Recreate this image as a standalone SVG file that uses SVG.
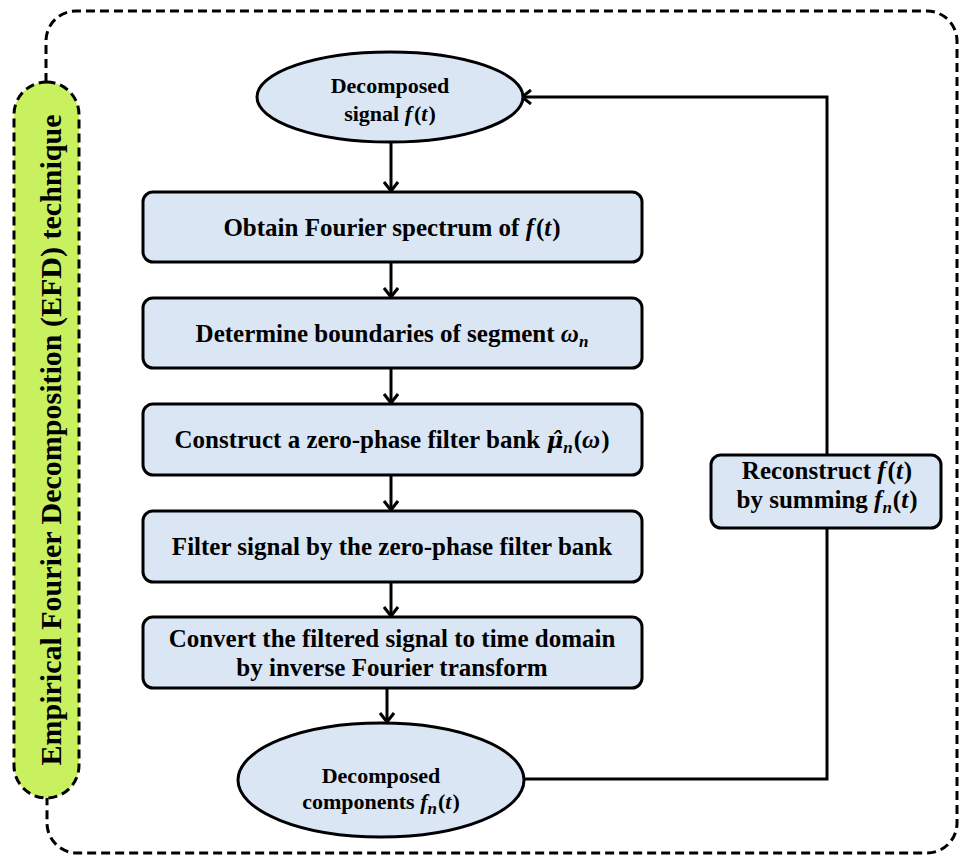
<svg xmlns="http://www.w3.org/2000/svg" width="960" height="860" viewBox="0 0 960 860">
<defs>
<style>
.node{fill:#dae6f4;stroke:#000;stroke-width:3}
.t{font-family:"Liberation Serif","Times New Roman",serif;font-weight:bold;font-size:25px;fill:#000;text-anchor:middle}
.te{font-size:22px}
.m{font-style:italic}
.sub{font-size:17px;font-style:italic}
.dash{fill:none;stroke:#000;stroke-width:3;stroke-dasharray:9 5}
.conn{fill:none;stroke:#000;stroke-width:3}
</style>
<marker id="arr" viewBox="0 0 16 16" markerWidth="16" markerHeight="16" refX="12" refY="8" orient="auto" markerUnits="userSpaceOnUse">
<path d="M3,1 L12,8 L3,15" fill="none" stroke="#000" stroke-width="3"/>
</marker>
</defs>
<rect width="960" height="860" fill="#fff"/>

<g id="frame">
<path class="dash" d="M46,82 L46,41 A30,30 0 0 1 76,11 L927,11 A30,30 0 0 1 957,41 L957,823 A30,30 0 0 1 927,853 L78,853 A30,30 0 0 1 47,823 L47,798"/>
</g>

<g id="efd-label">
<rect x="14" y="82" width="65" height="716" rx="32.5" ry="32.5" fill="#c9f05f" stroke="#000" stroke-width="3" stroke-dasharray="9 5"/>
<text class="t" style="font-size:30px" transform="translate(61,440) rotate(-90)">Empirical Fourier Decomposition (EFD) technique</text>
</g>

<g id="connectors">
<line class="conn" x1="391" y1="143" x2="391" y2="191" marker-end="url(#arr)"/>
<line class="conn" x1="391" y1="262" x2="391" y2="297" marker-end="url(#arr)"/>
<line class="conn" x1="391" y1="368" x2="391" y2="403" marker-end="url(#arr)"/>
<line class="conn" x1="391" y1="475" x2="391" y2="510" marker-end="url(#arr)"/>
<line class="conn" x1="391" y1="582" x2="391" y2="616" marker-end="url(#arr)"/>
<line class="conn" x1="387" y1="688" x2="387" y2="722" marker-end="url(#arr)"/>
<polyline class="conn" points="524,779 827,779 827,97 522,97" marker-end="url(#arr)"/>
</g>

<g id="start">
<ellipse class="node" cx="390" cy="97" rx="133" ry="45"/>
<text class="t te" x="390" y="93">Decomposed</text>
<text class="t te" x="390" y="121">signal <tspan class="m">f</tspan><tspan dx="2">(</tspan><tspan class="m">t</tspan><tspan dx="1">)</tspan></text>
</g>

<g id="step1">
<rect class="node" x="143" y="192" width="499" height="70" rx="10"/>
<text class="t" x="392" y="236">Obtain Fourier spectrum of <tspan class="m">f</tspan><tspan dx="2">(</tspan><tspan class="m">t</tspan><tspan dx="1">)</tspan></text>
</g>

<g id="step2">
<rect class="node" x="143" y="298" width="499" height="70" rx="10"/>
<text class="t" x="392" y="342">Determine boundaries of segment <tspan class="m">ω</tspan><tspan class="sub" dy="5">n</tspan></text>
</g>

<g id="step3">
<rect class="node" x="143" y="404" width="499" height="71" rx="10"/>
<text class="t" x="392" y="448">Construct a zero-phase filter bank <tspan class="m" style="font-family:'DejaVu Serif',serif;font-size:23px">μ̂</tspan><tspan class="sub" dy="5">n</tspan><tspan dy="-5" dx="1">(</tspan><tspan class="m">ω</tspan><tspan dx="1">)</tspan></text>
</g>

<g id="step4">
<rect class="node" x="143" y="511" width="499" height="71" rx="10"/>
<text class="t" x="392" y="555">Filter signal by the zero-phase filter bank</text>
</g>

<g id="step5">
<rect class="node" x="143" y="617" width="499" height="71" rx="10"/>
<text class="t" x="392" y="647">Convert the filtered signal to time domain</text>
<text class="t" x="392" y="676">by inverse Fourier transform</text>
</g>

<g id="end">
<ellipse class="node" cx="381" cy="780" rx="143" ry="57"/>
<text class="t te" x="381" y="783">Decomposed</text>
<text class="t te" x="381" y="809">components <tspan class="m">f</tspan><tspan class="sub" dy="5">n</tspan><tspan dy="-5" dx="1">(</tspan><tspan class="m">t</tspan><tspan dx="1">)</tspan></text>
</g>

<g id="reconstruct">
<rect class="node" x="711" y="455" width="230" height="73" rx="10"/>
<text class="t" x="827" y="479">Reconstruct <tspan class="m">f</tspan><tspan dx="2">(</tspan><tspan class="m">t</tspan><tspan dx="1">)</tspan></text>
<text class="t" x="827" y="508">by summing <tspan class="m">f</tspan><tspan class="sub" dy="5">n</tspan><tspan dy="-5" dx="1">(</tspan><tspan class="m">t</tspan><tspan dx="1">)</tspan></text>
</g>
</svg>
